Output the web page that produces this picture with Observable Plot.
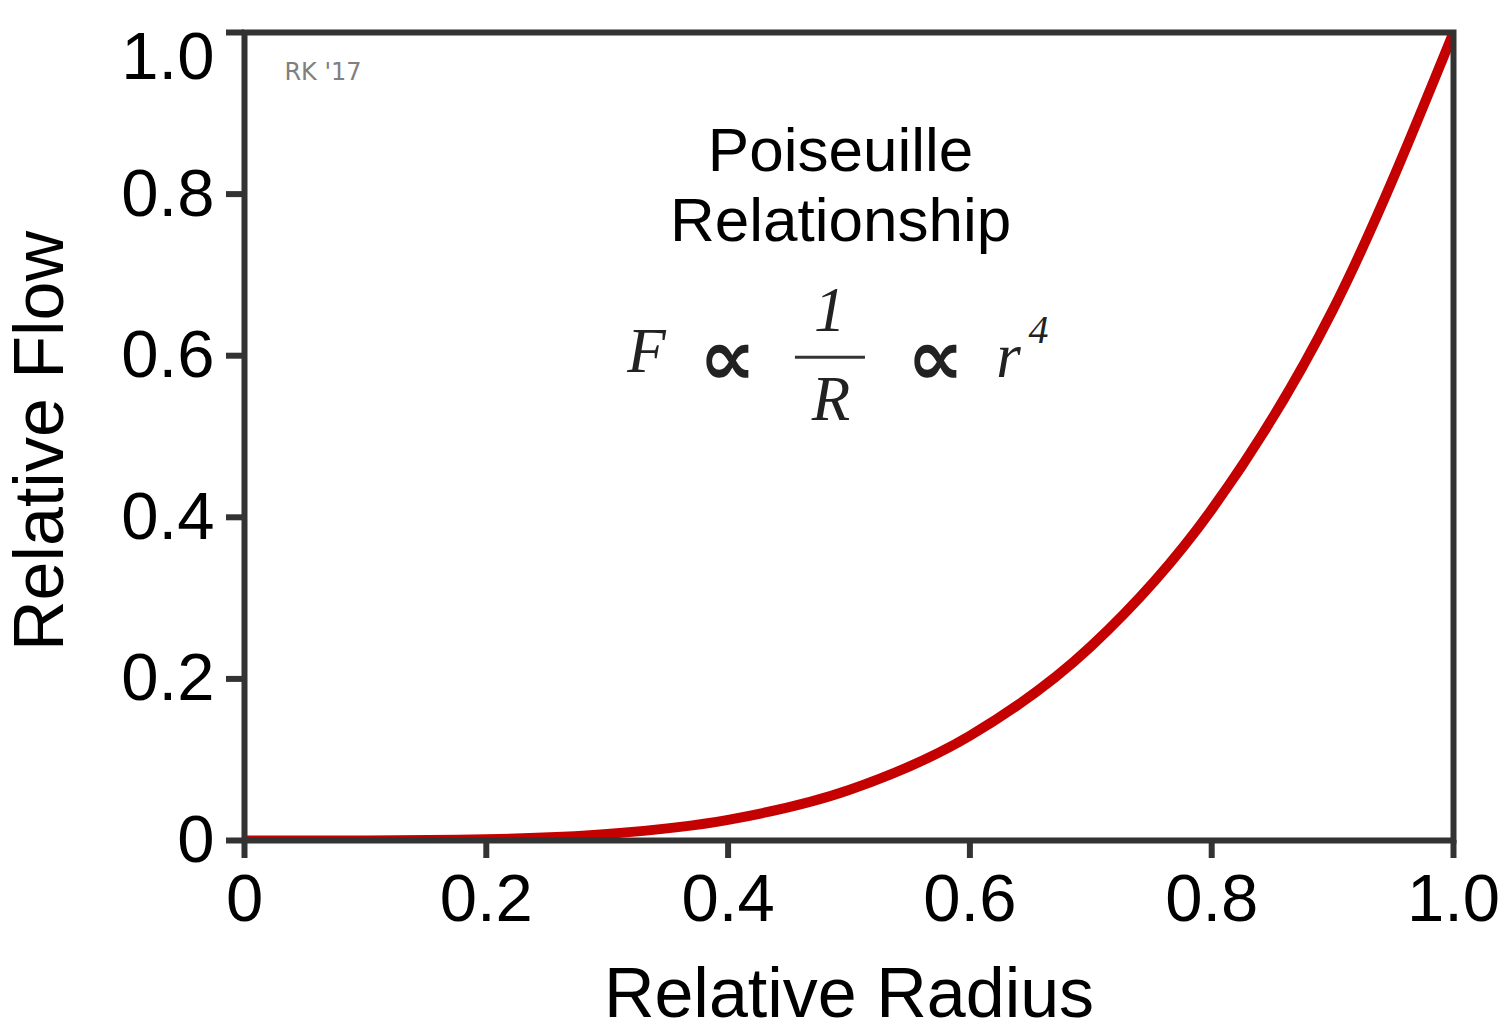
<!DOCTYPE html>
<html>
<head>
<meta charset="utf-8">
<script src="https://cdn.jsdelivr.net/npm/d3@7"></script>
<script src="https://cdn.jsdelivr.net/npm/@observablehq/plot@0.6"></script>
<style>
  html, body { margin: 0; padding: 0; background: #fff; }
  #chart svg { display: block; overflow: visible; }
</style>
</head>
<body>
<div id="chart"></div>
<script>
// Data
const radius = [0, 0.1, 0.2, 0.3, 0.4, 0.5, 0.6, 0.7, 0.8, 0.9, 1.0];
const flow   = [0, 0.0001, 0.0016, 0.0081, 0.0256, 0.0625, 0.1296, 0.2401, 0.4096, 0.6561, 1.0];
const tickValues = [0, 0.2, 0.4, 0.6, 0.8, 1.0];
const tickLabels = ["0", "0.2", "0.4", "0.6", "0.8", "1.0"];
const xTitle = "Relative Radius";
const yTitle = "Relative Flow";
const titleLines = ["Poiseuille", "Relationship"];
const signature = "RK '17";

const points = radius.map((r, i) => ({r, f: flow[i]}));
const fmt = v => tickLabels[tickValues.indexOf(v)];

const W = 1509, H = 1034;
const sans = "'Liberation Sans', Arial, Helvetica, sans-serif";
const serif = "'Liberation Serif', 'Times New Roman', serif";
const symFont = "'DejaVu Sans', sans-serif";

const plot = Plot.plot({
  width: W,
  height: H,
  marginLeft: 244,
  marginRight: 56,
  marginTop: 32,
  marginBottom: 194,
  style: {fontFamily: sans, background: "#fff", color: "#000", overflow: "visible"},
  x: {domain: [0, 1]},
  y: {domain: [0, 1]},
  marks: [
    Plot.line(points, {x: "r", y: "f", stroke: "#c40000", strokeWidth: 10, curve: "monotone-x", strokeLinecap: "butt", clip: true}),
    // title
    Plot.text([titleLines[0]], {x: 0.493, y: 0.853, text: d => d, fontSize: 62, fontFamily: sans, fill: "#000"}),
    Plot.text([titleLines[1]], {x: 0.493, y: 0.766, text: d => d, fontSize: 62, fontFamily: sans, fill: "#000"}),
    // formula F ∝ 1/R ∝ r^4
    Plot.text(["F"], {x: 0.3325, y: 0.605, text: d => d, fontSize: 63, fontFamily: serif, fontStyle: "italic", fill: "#222"}),
    Plot.text(["\u221D"], {x: 0.3995, y: 0.596, text: d => d, fontSize: 80, fontFamily: symFont, fontWeight: "bold", fill: "#222"}),
    Plot.text(["1"], {x: 0.484, y: 0.656, text: d => d, fontSize: 63, fontFamily: serif, fontStyle: "italic", fill: "#222"}),
    Plot.ruleY([0.598], {x1: 0.4557, x2: 0.5136, stroke: "#333", strokeWidth: 3}),
    Plot.text(["R"], {x: 0.485, y: 0.546, text: d => d, fontSize: 63, fontFamily: serif, fontStyle: "italic", fill: "#222"}),
    Plot.text(["\u221D"], {x: 0.5716, y: 0.596, text: d => d, fontSize: 80, fontFamily: symFont, fontWeight: "bold", fill: "#222"}),
    Plot.text(["r"], {x: 0.632, y: 0.598, text: d => d, fontSize: 63, fontFamily: serif, fontStyle: "italic", fill: "#222"}),
    Plot.text(["4"], {x: 0.6567, y: 0.632, text: d => d, fontSize: 40, fontFamily: serif, fontStyle: "italic", fill: "#222"}),
    // signature
    Plot.text([signature], {x: 0.033, y: 0.9505, text: d => d, textAnchor: "start", fontSize: 24, fontFamily: symFont, fill: "#808080"}),
    Plot.axisX({ticks: tickValues, tickFormat: fmt, tickSize: 18, tickPadding: 15, strokeWidth: 6, stroke: "#333", fill: "#000", fontSize: 67, label: null}),
    Plot.axisY({ticks: tickValues, tickFormat: fmt, tickSize: 18, tickPadding: 12, strokeWidth: 6, stroke: "#333", fill: "#000", fontSize: 67, label: null}),
    Plot.frame({stroke: "#333", strokeWidth: 6})
  ]
});

document.getElementById("chart").appendChild(plot);

// nudge the top y tick label slightly down, as in the reference
d3.select(plot).selectAll('g[aria-label="y-axis tick label"] text')
  .filter(function() { return this.textContent === "1.0"; })
  .attr("dy", "0.38em");

// axis titles
const svg = d3.select(plot);
svg.append("text")
  .attr("x", 849).attr("y", 1017)
  .attr("text-anchor", "middle")
  .attr("font-family", sans).attr("font-size", 70).attr("fill", "#000")
  .text(xTitle);
svg.append("text")
  .attr("transform", "translate(63,441) rotate(-90)")
  .attr("text-anchor", "middle")
  .attr("font-family", sans).attr("font-size", 70).attr("fill", "#000")
  .text(yTitle);
</script>
</body>
</html>
